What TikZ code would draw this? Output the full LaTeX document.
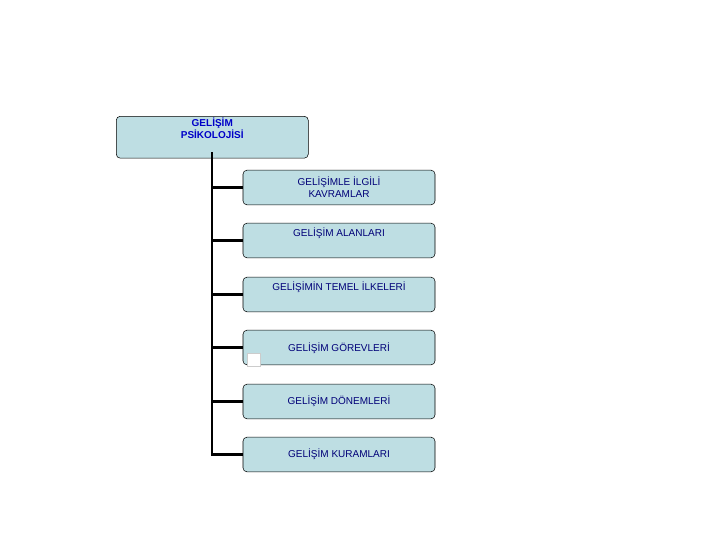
\documentclass[tikz,border=0pt]{standalone}
\usepackage{fontspec}
\setmainfont{Liberation Sans}
\begin{document}
\begin{tikzpicture}[x=0.75pt,y=-0.75pt,
  topic/.style={draw=black,fill={rgb,255:red,190;green,222;blue,227},rounded corners=3pt,
    minimum width=144pt,minimum height=26pt,align=center,font=\fontsize{7.5}{9}\selectfont,
    text={rgb,255:red,0;green,0;blue,120},inner sep=1pt},
  link/.style={line width=2.2pt}]
\useasboundingbox (0,0) rectangle (720,540);

% root
\node [topic,anchor=north west,font=\bfseries\fontsize{7.5}{9}\selectfont,
  text={rgb,255:red,0;green,0;blue,200},anchor=north west,text depth=14pt] (root) at (116,116) {GELİŞİM\\PSİKOLOJİSİ};

% children
\node [topic] (kavram) at (339,187.5) {GELİŞİMLE İLGİLİ\\KAVRAMLAR};
\node [topic] (alan) at (339,240.5) {GELİŞİM ALANLARI\\[4pt]};
\node [topic] (ilke) at (339,294.5) {GELİŞİMİN TEMEL İLKELERİ\\[4pt]};
\node [topic] (gorev) at (339,347.5) {\\[-2pt]GELİŞİM GÖREVLERİ};
\node [topic] (donem) at (339,401.5) {GELİŞİM DÖNEMLERİ};
\node [topic] (kuram) at (339,454.5) {GELİŞİM KURAMLARI};

% tree lines
\coordinate (trunk) at (212,152);
\draw [link] (trunk) -- (212,454.5) -- (kuram.west);
\foreach \n in {kavram,alan,ilke,gorev,donem}
  \draw [link] (212,0 |- \n.west) -- (\n.west);

% small marker
\draw [gray!40,fill=white] (247,353) rectangle (260,366);
\end{tikzpicture}
\end{document}
